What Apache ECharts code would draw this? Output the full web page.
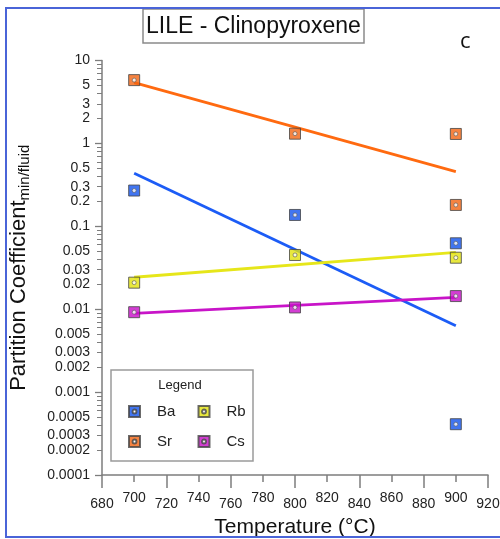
<!DOCTYPE html>
<html>
<head>
<meta charset="utf-8">
<title>LILE - Clinopyroxene</title>
<script src="https://cdn.jsdelivr.net/npm/echarts@6/dist/echarts.min.js"></script>
<style>
  html, body { margin: 0; padding: 0; background: #ffffff; }
  #chart { width: 500px; height: 539px; }
</style>
</head>
<body>
<div id="chart"></div>
<script>
// Measured partition coefficients (mineral / fluid) by temperature, °C
const baObs = [[700, 0.27], [800, 0.137], [900, 0.0624], [900, 0.00041]];
const srObs = [[700, 5.8], [800, 1.31], [900, 1.30], [900, 0.181]];
const rbObs = [[700, 0.0209], [800, 0.0451], [900, 0.0418]];
const csObs = [[700, 0.0092], [800, 0.0105], [900, 0.0144]];

// Fitted trend lines (end points at 700 and 900 °C)
const baFit = [[700, 0.436], [900, 0.0063]];
const srFit = [[700, 5.4], [900, 0.456]];
const rbFit = [[700, 0.0243], [900, 0.0486]];
const csFit = [[700, 0.0089], [900, 0.0139]];

// Axis ticks
const xTickValues = [680, 700, 720, 740, 760, 780, 800, 820, 840, 860, 880, 900, 920];
const yLabelValues = [0.0001, 0.0002, 0.0003, 0.0005, 0.001, 0.002, 0.003, 0.005,
  0.01, 0.02, 0.03, 0.05, 0.1, 0.2, 0.3, 0.5, 1, 2, 3, 5, 10];
const yMinorValues = [
  0.0002, 0.0003, 0.0004, 0.0005, 0.0006, 0.0007, 0.0008, 0.0009,
  0.002, 0.003, 0.004, 0.005, 0.006, 0.007, 0.008, 0.009,
  0.02, 0.03, 0.04, 0.05, 0.06, 0.07, 0.08, 0.09,
  0.2, 0.3, 0.4, 0.5, 0.6, 0.7, 0.8, 0.9,
  2, 3, 4, 5, 6, 7, 8, 9];

const colors = { Ba: '#1253ec', Sr: '#f26412', Rb: '#e2e20e', Cs: '#c80ec8' };
const lineColors = { Ba: '#1c5cf6', Sr: '#ff6a10', Rb: '#e6e61a', Cs: '#c814c8' };

// Square marker with a small round window in the middle (used for legend icons)
const holeSquare = 'path://M0,0 H20 V20 H0 Z M10,6.5 A3.5,3.5 0 1,0 10,13.5 A3.5,3.5 0 1,0 10,6.5 Z';

const FONT = '"Liberation Sans", Arial, sans-serif';
const AXIS_GREY = '#7d7d7d';

function obsSeries(name, data) {
  return {
    name: name,
    type: 'scatter',
    data: data,
    symbol: 'rect',
    symbolSize: 11,
    z: 5,
    itemStyle: { color: colors[name], borderColor: '#454545', borderWidth: 1 }
  };
}
function dotSeries(name, data) {
  return {
    name: name + ' centre',
    type: 'scatter',
    data: data,
    symbol: 'circle',
    symbolSize: 4,
    z: 6,
    silent: true,
    itemStyle: { color: '#ffffff', borderColor: '#5a5a5a', borderWidth: 0.8 }
  };
}
function fitSeries(name, data) {
  return {
    name: name + ' fit',
    type: 'line',
    data: data,
    symbol: 'none',
    z: 3,
    silent: true,
    lineStyle: { color: lineColors[name], width: 2.8 }
  };
}

const chart = echarts.init(document.getElementById('chart'), null, { renderer: 'canvas' });

const option = {
  animation: false,
  backgroundColor: '#ffffff',
  title: [
    {
      text: 'LILE - Clinopyroxene',
      left: 143, top: 9,
      padding: [6, 3, 5, 3],
      borderColor: '#8a8a8a', borderWidth: 1.5,
      textStyle: { fontFamily: FONT, fontSize: 23, fontWeight: 'normal', color: '#111111' }
    },
    {
      text: 'c',
      left: 460, top: 31,
      padding: 0,
      textStyle: { fontFamily: '"Open Sans", sans-serif', fontSize: 22, fontWeight: 'normal', color: '#111111' }
    },
    {
      text: 'Legend',
      left: 180, top: 379, textAlign: 'center',
      padding: 0,
      textStyle: { fontFamily: FONT, fontSize: 13, fontWeight: 'normal', color: '#222222' }
    }
  ],
  legend: {
    data: ['Ba', 'Rb', 'Sr', 'Cs'].map(n => ({ name: n, icon: holeSquare })),
    left: 111, top: 370,
    orient: 'horizontal',
    width: 125,
    padding: [34, 1, 12, 17],
    itemWidth: 11, itemHeight: 11,
    itemGap: 15,
    borderColor: '#9a9a9a', borderWidth: 1.5,
    backgroundColor: '#ffffff',
    selectedMode: false,
    textStyle: {
      fontFamily: FONT, fontSize: 15, color: '#222222',
      width: 25.5, lineHeight: 12, padding: [0, 0, 0, 12]
    }
  },
  grid: { left: 102, right: 12, top: 60.5, bottom: 64, containLabel: false, outerBoundsMode: 'none' },
  xAxis: {
    type: 'value',
    min: 680, max: 920, interval: 40,
    name: 'Temperature (°C)',
    nameLocation: 'middle',
    nameGap: 30,
    nameTextStyle: { fontFamily: FONT, fontSize: 21, color: '#111111' },
    axisLine: { show: true, lineStyle: { color: AXIS_GREY, width: 1.5 } },
    axisTick: { show: true, inside: false, length: 13, lineStyle: { color: AXIS_GREY, width: 1.5 } },
    minorTick: { show: true, splitNumber: 2, length: 7, lineStyle: { color: AXIS_GREY, width: 1.5 } },
    splitLine: { show: false },
    axisLabel: {
      customValues: xTickValues,
      margin: 16.5,
      fontFamily: FONT, fontSize: 14, color: '#222222',
      formatter: function (v) {
        return ((v - 680) / 20) % 2 === 0 ? '{lo|' + v + '}' : '{hi|' + v + '}';
      },
      rich: {
        lo: { fontFamily: FONT, fontSize: 14, color: '#222222', padding: [6, 0, 0, 0] },
        hi: { fontFamily: FONT, fontSize: 14, color: '#222222' }
      }
    }
  },
  yAxis: [
    {
      type: 'log', logBase: 10,
      min: 0.0001, max: 10,
      name: '{a|Partition Coefficient}{b|min/fluid}',
      nameLocation: 'middle',
      nameGap: 70,
      nameRotate: 90,
      nameTextStyle: {
        rich: {
          a: { fontFamily: FONT, fontSize: 22, color: '#111111', lineHeight: 26, verticalAlign: 'middle' },
          b: { fontFamily: FONT, fontSize: 15, color: '#111111', lineHeight: 15, verticalAlign: 'bottom' }
        }
      },
      axisLine: { show: true, lineStyle: { color: AXIS_GREY, width: 1.5 } },
      axisTick: { show: true, inside: false, length: 7, lineStyle: { color: AXIS_GREY, width: 1.3 } },
      minorTick: { show: false },
      splitLine: { show: false },
      axisLabel: {
        customValues: yLabelValues,
        margin: 12,
        fontFamily: FONT, fontSize: 14, color: '#222222',
        formatter: function (v) { return String(v); }
      }
    },
    {
      type: 'log', logBase: 10,
      min: 0.0001, max: 10,
      position: 'left',
      axisLine: { show: false },
      axisLabel: { show: false },
      splitLine: { show: false },
      axisTick: {
        show: true, inside: false, length: 5,
        customValues: yMinorValues,
        lineStyle: { color: AXIS_GREY, width: 1 }
      }
    }
  ],
  graphic: [
    {
      type: 'rect',
      shape: { x: 6, y: 8, width: 600, height: 529 },
      style: { fill: null, stroke: '#4a64d8', lineWidth: 2 },
      silent: true, z: 100
    }
  ],
  series: [
    fitSeries('Ba', baFit), fitSeries('Sr', srFit), fitSeries('Rb', rbFit), fitSeries('Cs', csFit),
    obsSeries('Ba', baObs), obsSeries('Rb', rbObs), obsSeries('Sr', srObs), obsSeries('Cs', csObs),
    dotSeries('Ba', baObs), dotSeries('Rb', rbObs), dotSeries('Sr', srObs), dotSeries('Cs', csObs)
  ]
};

chart.setOption(option);
</script>
</body>
</html>
